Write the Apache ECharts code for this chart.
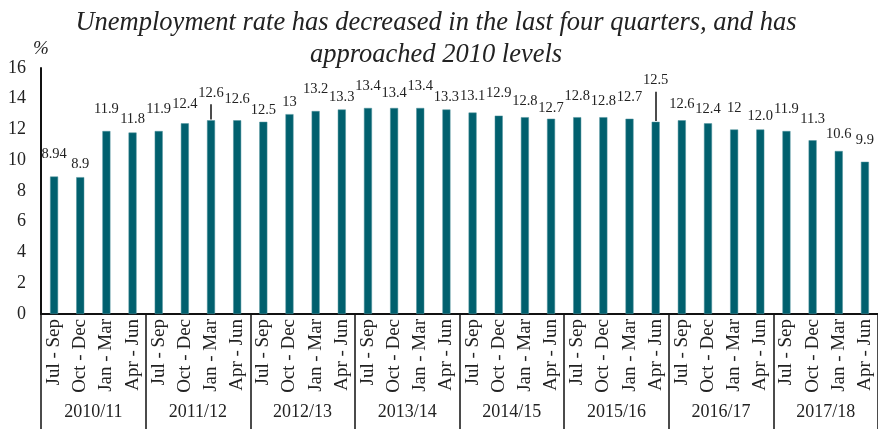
<!DOCTYPE html>
<html>
<head>
<meta charset="utf-8">
<script src="https://cdn.jsdelivr.net/npm/echarts@6/dist/echarts.min.js"></script>
<style>
  html, body { margin: 0; padding: 0; background: #fff; }
  #main { width: 878px; height: 429px; }
</style>
</head>
<body>
<div id="main"></div>
<script>
// quarters inside each financial year
var quarters = ['Jul - Sep', 'Oct - Dec', 'Jan - Mar', 'Apr - Jun'];
var years = ['2010/11', '2011/12', '2012/13', '2013/14', '2014/15', '2015/16', '2016/17', '2017/18'];
// unemployment rate, %
var rates = [8.94, 8.9, 11.9, 11.8, 11.9, 12.4, 12.6, 12.6,
             12.5, 13, 13.2, 13.3, 13.4, 13.4, 13.4, 13.3,
             13.1, 12.9, 12.8, 12.7, 12.8, 12.8, 12.7, 12.5,
             12.6, 12.4, 12, 12.0, 11.9, 11.3, 10.6, 9.9];
// labels as printed on the chart
var rateLabels = ['8.94', '8.9', '11.9', '11.8', '11.9', '12.4', '12.6', '12.6',
                  '12.5', '13', '13.2', '13.3', '13.4', '13.4', '13.4', '13.3',
                  '13.1', '12.9', '12.8', '12.7', '12.8', '12.8', '12.7', '12.5',
                  '12.6', '12.4', '12', '12.0', '11.9', '11.3', '10.6', '9.9'];
var yTicks = [0, 2, 4, 6, 8, 10, 12, 14, 16];

// how far above the bar each label sits (px)
var labelRaise = [13, 3, 12, 4, 12, 10, 18, 12,
                  2, 2, 12, 3, 12, 5, 12, 3,
                  7, 13, 7, 1, 12, 7, 12, 32,
                  7, 5, 12, 4, 12, 12, 7, 12];
var leaders = [6, 23];

var font = '"Liberation Serif", "Times New Roman", serif';

var cats = [];
years.forEach(function (y) {
    quarters.forEach(function (q) { cats.push(q); });
});

var myChart = echarts.init(document.getElementById('main'));

var barData = rates.map(function (v, i) {
    return {
        value: v,
        label: { formatter: rateLabels[i], offset: [0, -labelRaise[i]] }
    };
});

var leaderLines = leaders.map(function (i) {
    return [{ coord: [i, rates[i] + 0.05] }, { coord: [i, rates[i] + (labelRaise[i] - 2) / 15.4] }];
});

var option = {
    animation: false,
    title: {
        text: 'Unemployment rate has decreased in the last four quarters, and has\napproached 2010 levels',
        left: 431,
        top: 2,
        textAlign: 'center',
        textStyle: {
            fontFamily: font,
            fontStyle: 'italic',
            fontWeight: 'normal',
            fontSize: 26.5,
            lineHeight: 32,
            color: '#222'
        }
    },
    grid: { left: 41, right: 0, top: 68, bottom: 115 },
    xAxis: [{
        type: 'category',
        data: cats,
        position: 'bottom',
        axisLine: { lineStyle: { color: '#111', width: 2 } },
        axisTick: { show: false },
        axisLabel: {
            interval: 0,
            rotate: 90,
            margin: 5,
            fontFamily: font,
            fontSize: 19,
            color: '#222'
        }
    }, {
        type: 'category',
        data: years,
        position: 'bottom',
        axisLine: { show: false },
        axisTick: { show: true, length: 115, lineStyle: { color: '#111', width: 1.5 } },
        axisLabel: {
            interval: 0,
            margin: 89,
            fontFamily: font,
            fontSize: 18,
            color: '#222'
        }
    }],
    yAxis: {
        type: 'value',
        min: yTicks[0],
        max: yTicks[yTicks.length - 1],
        interval: 2,
        name: '%',
        nameGap: 10,
        nameTextStyle: { fontFamily: font, fontStyle: 'italic', fontSize: 19, color: '#222' },
        axisLine: { show: true, lineStyle: { color: '#111', width: 2 } },
        axisTick: { show: false },
        splitLine: { show: false },
        axisLabel: { margin: 15, fontFamily: font, fontSize: 18, color: '#222' }
    },
    series: [{
        type: 'bar',
        data: barData,
        barWidth: 8,
        itemStyle: { color: '#01606e', borderColor: '#4f929c', borderWidth: 0.5 },
        label: {
            show: true,
            position: 'top',
            distance: 2,
            fontFamily: font,
            fontSize: 14.5,
            color: '#222'
        },
        markLine: {
            silent: true,
            symbol: 'none',
            label: { show: false },
            lineStyle: { color: '#111', width: 1.5, type: 'solid' },
            data: leaderLines
        }
    }]
};

myChart.setOption(option);
</script>
</body>
</html>
